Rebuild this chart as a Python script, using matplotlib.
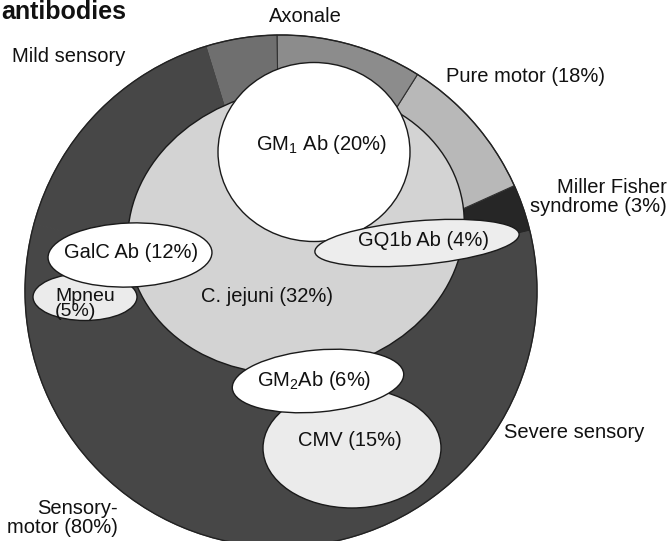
import matplotlib.pyplot as plt
from matplotlib.patches import Ellipse, Circle

plt.rcParams['font.family'] = ['Liberation Sans', 'DejaVu Sans']
plt.rcParams['mathtext.fontset'] = 'custom'
plt.rcParams['mathtext.rm'] = 'Liberation Sans'
plt.rcParams['mathtext.default'] = 'regular'

# outer ring: clinical forms, percent of the circle, going counterclockwise
ring_parts = ["Miller Fisher", "Pure motor", "Pure motor axonal",
              "Sensory-motor axonal", "Mild sensory", "Severe sensory"]
ring_pct = [3, 9.3, 9.2, 4.5, 16, 58]
ring_colors = ["#262626", "#b8b8b8", "#8c8c8c", "#6f6f6f", "#474747", "#474747"]

# clinical labels round the circle
clin_labels = ["Mild sensory", "Axonale", "Pure motor (18%)",
               "Miller Fisher\nsyndrome (3%)", "Severe sensory", "Sensory-\nmotor (80%)"]

# infections and antibodies (inner blobs), in drawing order
inner_names = ["C. jejuni", "CMV", "GM$_1$ Ab", "GQ1b Ab", "Mpneu", "GalC Ab", "GM$_2$Ab"]
inner_pct = [32, 15, 20, 4, 5, 12, 6]

# layout, in picture pixels (y downwards)
W, H = 670, 541
circ_c = (281, 291)
circ_r = 256
inner_xy = [(296, 231), (352, 448), (314, 152), (417, 243), (85, 297), (130, 255), (318, 381)]
inner_wh = [(338, 284), (178, 120), (192, 179), (205, 44), (104, 47), (164, 64), (172, 62)]
inner_rot = [10, 0, 0, 5, 0, 2, 5]
inner_face = ["#d3d3d3", "#ebebeb", "white", "#ededed", "#ebebeb", "white", "white"]
inner_text_xy = [(267, 297), (350, 441), (322, 145), (423, 240), (55, 304), (131, 253), (314, 380)]

clin_xy = [(69, 57), (305, 17), (525, 77), (667, 197), (574, 433), (118, 518)]
clin_ha = ["center", "center", "center", "right", "center", "right"]

fig = plt.figure(figsize=(W / 100, H / 100), dpi=100)
ax = fig.add_axes([0, 0, 1, 1])

wedges, _ = ax.pie(ring_pct, colors=ring_colors, center=circ_c, radius=circ_r,
                   startangle=-13.5, counterclock=False,
                   wedgeprops=dict(edgecolor="#303030", linewidth=0.8))
# no visible seam between the two dark sensory-motor parts
for w, name in zip(wedges, ring_parts):
    if name in ("Mild sensory", "Severe sensory"):
        w.set_edgecolor(w.get_facecolor())
ax.add_patch(Circle(circ_c, circ_r, fill=False, edgecolor="#222222", lw=1.0))

for i in range(len(inner_names)):
    ax.add_patch(Ellipse(inner_xy[i], inner_wh[i][0], inner_wh[i][1],
                         angle=-inner_rot[i], facecolor=inner_face[i],
                         edgecolor="#1a1a1a", lw=1.0))

for i in range(len(inner_names)):
    if inner_names[i] == "Mpneu":
        ax.text(inner_text_xy[i][0], inner_text_xy[i][1],
                f"{inner_names[i]}\n({inner_pct[i]}%)", ha="left", va="center",
                fontsize=14, linespacing=0.85, color="#111111", zorder=5)
    else:
        ax.text(inner_text_xy[i][0], inner_text_xy[i][1],
                f"{inner_names[i]} ({inner_pct[i]}%)", ha="center", va="center",
                fontsize=14.5, color="#111111", zorder=5)

for lab, (x, y), ha in zip(clin_labels, clin_xy, clin_ha):
    ax.text(x, y, lab, ha=ha, va="center", fontsize=14.5, color="#111111",
            linespacing=0.95, multialignment=ha)

ax.text(1, 19, "antibodies", ha="left", va="baseline", fontsize=18,
        fontweight="bold", color="#111111")

ax.set_xlim(0, W)
ax.set_ylim(H, 0)
ax.set_aspect("equal")
ax.axis("off")

fig.savefig("out.png", dpi=100)
